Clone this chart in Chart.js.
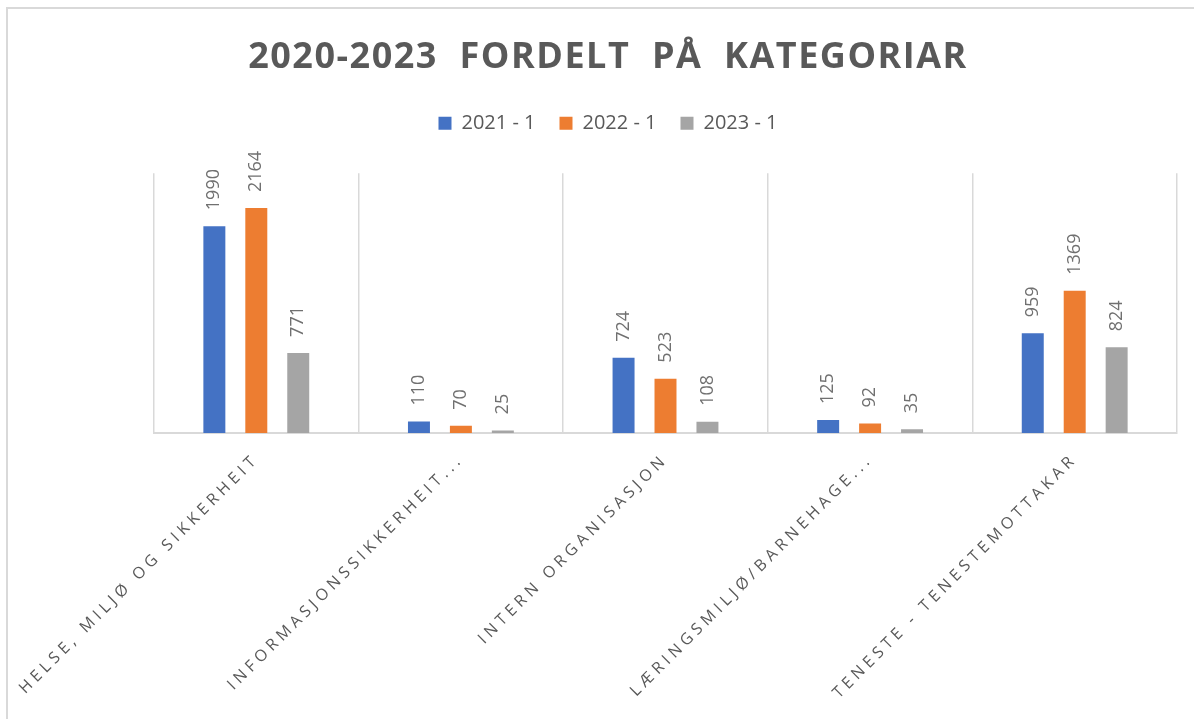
<!DOCTYPE html>
<html>
<head>
<meta charset="utf-8">
<script src="https://cdn.jsdelivr.net/npm/chart.js@4.4.1/dist/chart.umd.min.js"></script>
<style>
  html, body { margin: 0; padding: 0; background: #fff; }
  #wrap {
    position: absolute; left: 6px; top: 7px;
    width: 1186px; height: 710px;
    border-left: 2px solid #d9d9d9; border-top: 2px solid #d9d9d9;
  }
</style>
</head>
<body>
<div id="wrap"><canvas id="chart" width="1186" height="710"></canvas></div>
<script>
// categories and series
const categories = [
    'HELSE, MILJØ OG SIKKERHEIT',
    'INFORMASJONSSIKKERHEIT...',
    'INTERN ORGANISASJON',
    'LÆRINGSMILJØ/BARNEHAGE...',
    'TENESTE - TENESTEMOTTAKAR'
];
const seriesNames = ['2021 - 1', '2022 - 1', '2023 - 1'];
const values2021 = [1990, 110, 724, 125, 959];
const values2022 = [2164, 70, 523, 92, 1369];
const values2023 = [771, 25, 108, 35, 824];
const colors = ['#4472c4', '#ed7d31', '#a5a5a5'];

const textColor = '#595959';
const gridColor = '#d9d9d9';

// canvas has no letter-spacing option in Chart.js, so wrap the draw calls
function withSpacing(obj, fn, sp) {
    if (!obj || obj['_spaced_' + fn]) return;
    const orig = obj[fn];
    obj[fn] = function (...args) {
        const c = this.ctx;
        const old = c.letterSpacing;
        c.letterSpacing = sp;
        orig.apply(this, args);
        c.letterSpacing = old;
    };
    obj['_spaced_' + fn] = true;
}

const spacingPlugin = {
    id: 'spacing',
    afterLayout(chart) {
        withSpacing(chart.titleBlock, 'draw', '1.5px');
        withSpacing(chart.scales.x, 'drawLabels', '4.4px');
    }
};

// value labels, rotated, above each bar
const barLabels = {
    id: 'barLabels',
    afterDatasetsDraw(chart) {
        const ctx = chart.ctx;
        chart.data.datasets.forEach((ds, i) => {
            const meta = chart.getDatasetMeta(i);
            meta.data.forEach((bar, j) => {
                ctx.save();
                ctx.translate(bar.x, bar.y - 16);
                ctx.rotate(-Math.PI / 2);
                ctx.font = '18px "Open Sans"';
                ctx.fillStyle = '#707070';
                ctx.textAlign = 'left';
                ctx.textBaseline = 'middle';
                ctx.fillText(ds.data[j], 0, 0);
                ctx.restore();
            });
        });
    }
};

const chart = new Chart(document.getElementById('chart'), {
    type: 'bar',
    data: {
        labels: categories,
        datasets: [
            { label: seriesNames[0], data: values2021, backgroundColor: colors[0] },
            { label: seriesNames[1], data: values2022, backgroundColor: colors[1] },
            { label: seriesNames[2], data: values2023, backgroundColor: colors[2] }
        ]
    },
    options: {
        responsive: false,
        animation: false,
        categoryPercentage: 0.615,
        barPercentage: 0.524,
        layout: { padding: { left: 31, right: 17, top: 0, bottom: 0 } },
        plugins: {
            title: {
                display: true,
                text: '2020-2023  FORDELT  PÅ  KATEGORIAR',
                color: textColor,
                font: { family: 'Open Sans', size: 36, weight: 'bold' },
                padding: { top: 27, bottom: 10 }
            },
            // empty subtitle used as a spacer between legend and plot
            subtitle: {
                display: true,
                text: '',
                weight: 500,
                font: { size: 10, lineHeight: 1 },
                padding: { top: 10, bottom: 10 }
            },
            legend: {
                labels: {
                    color: textColor,
                    font: { family: 'Open Sans', size: 20 },
                    boxWidth: 13,
                    boxHeight: 13,
                    padding: 24
                }
            },
            tooltip: { enabled: false }
        },
        scales: {
            x: {
                grid: { color: gridColor, lineWidth: 1.5, drawTicks: false },
                border: { color: gridColor, width: 2 },
                ticks: {
                    color: textColor,
                    font: { family: 'Open Sans', size: 16 },
                    minRotation: 45,
                    maxRotation: 45,
                    autoSkip: false,
                    padding: 17
                },
                afterFit(s) { s.height = 286; }
            },
            y: {
                min: 0,
                max: 2500,
                grid: { display: false },
                border: { display: false },
                ticks: { display: false },
                afterFit(s) { s.width = 115; }
            }
        }
    },
    plugins: [spacingPlugin, barLabels]
});
</script>
</body>
</html>
